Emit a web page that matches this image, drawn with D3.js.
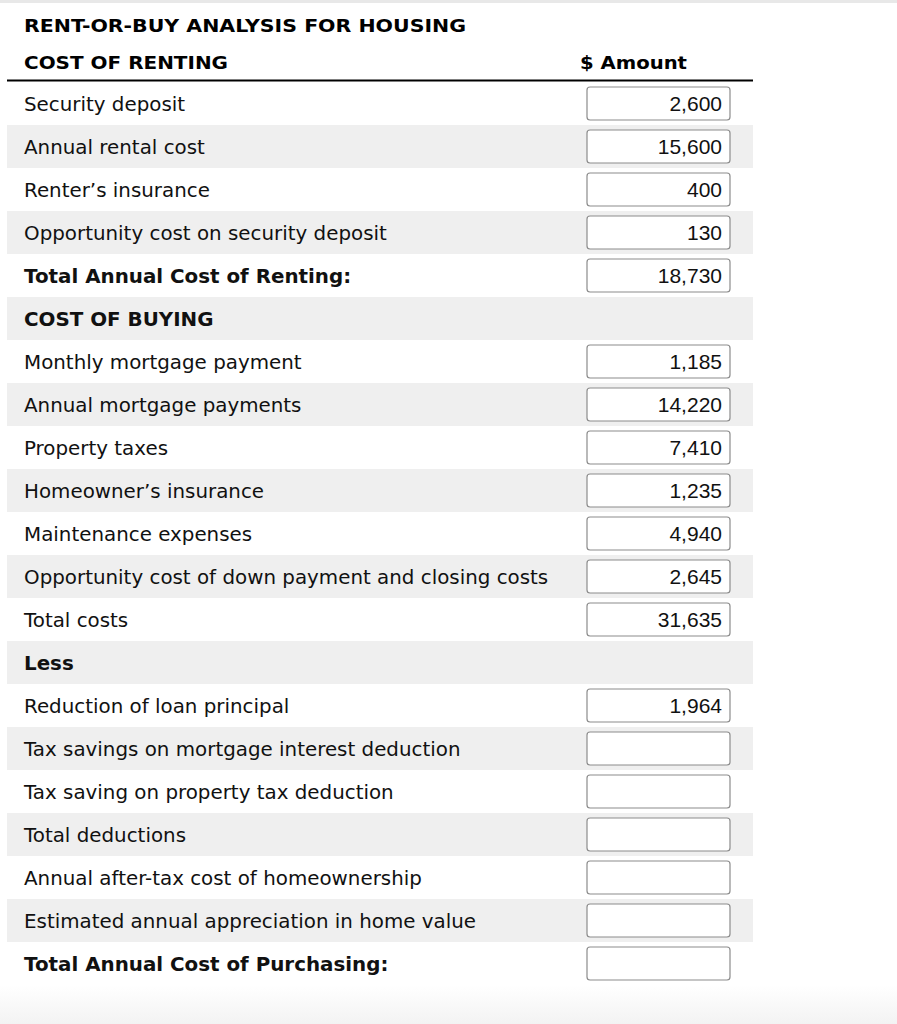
<!DOCTYPE html>
<html lang="en">
<head>
    <meta charset="UTF-8">
    <title>Rent or Buy</title>
    <script src="https://d3js.org/d3.v7.min.js"></script>
    <style>
        body { margin: 0; background: #fff; }
    </style>
</head>
<body>
<script>
    var width = 897, height = 1024;

    var labels = [
        "Security deposit",
        "Annual rental cost",
        "Renter\u2019s insurance",
        "Opportunity cost on security deposit",
        "Total Annual Cost of Renting:",
        "COST OF BUYING",
        "Monthly mortgage payment",
        "Annual mortgage payments",
        "Property taxes",
        "Homeowner\u2019s insurance",
        "Maintenance expenses",
        "Opportunity cost of down payment and closing costs",
        "Total costs",
        "Less",
        "Reduction of loan principal",
        "Tax savings on mortgage interest deduction",
        "Tax saving on property tax deduction",
        "Total deductions",
        "Annual after-tax cost of homeownership",
        "Estimated annual appreciation in home value",
        "Total Annual Cost of Purchasing:"
    ];
    // null = empty input box, undefined = no box (section heading)
    var amounts = [2600, 15600, 400, 130, 18730, undefined, 1185, 14220, 7410, 1235, 4940, 2645, 31635,
        undefined, 1964, null, null, null, null, null, null];
    var boldRows = [4, 5, 13, 20];

    var title = "RENT-OR-BUY ANALYSIS FOR HOUSING";
    var sectionHead = "COST OF RENTING";
    var colHead = "$ Amount";

    var svg = d3.select("body").append("svg")
        .attr("width", width)
        .attr("height", height);

    var defs = svg.append("defs");
    var grad = defs.append("linearGradient").attr("id", "fade")
        .attr("x1", 0).attr("y1", 0).attr("x2", 0).attr("y2", 1);
    grad.append("stop").attr("offset", "0%").attr("stop-color", "#ffffff");
    grad.append("stop").attr("offset", "100%").attr("stop-color", "#f3f3f3");
    svg.append("rect").attr("x", 0).attr("y", 985).attr("width", width).attr("height", height - 985)
        .style("fill", "url(#fade)");

    // top border
    svg.append("rect").attr("x", 0).attr("y", 0).attr("width", width).attr("height", 3).style("fill", "#e8e8e8");

    var tableLeft = 7, tableRight = 753;
    var y = d3.scaleBand()
        .domain(d3.range(labels.length))
        .range([82, 82 + 43 * labels.length]);

    var fmt = d3.format(",");
    var stretch = 1.045; // Verdana runs a bit wider than DejaVu Sans

    function widen(sel) {
        sel.each(function() {
            var w = this.getComputedTextLength();
            d3.select(this).attr("textLength", w * stretch).attr("lengthAdjust", "spacingAndGlyphs");
        });
    }

    // striped rows
    svg.selectAll(".band")
        .data(d3.range(labels.length).filter(function(i) { return i % 2 === 1; }))
        .enter().append("rect")
        .attr("x", tableLeft)
        .attr("y", function(i) { return y(i); })
        .attr("width", tableRight - tableLeft)
        .attr("height", y.bandwidth())
        .style("fill", "#efefef");

    // headers
    svg.append("text").attr("x", 24).attr("y", 32)
        .style("font-family", "DejaVu Sans").style("font-weight", "bold").style("font-size", "18px")
        .attr("textLength", 442).attr("lengthAdjust", "spacingAndGlyphs")
        .text(title);
    svg.append("text").attr("x", 24).attr("y", 69)
        .style("font-family", "DejaVu Sans").style("font-weight", "bold").style("font-size", "18px")
        .attr("textLength", 204).attr("lengthAdjust", "spacingAndGlyphs")
        .text(sectionHead);
    svg.append("text").attr("x", 580).attr("y", 69)
        .style("font-family", "DejaVu Sans").style("font-weight", "bold").style("font-size", "18px")
        .attr("textLength", 107).attr("lengthAdjust", "spacingAndGlyphs")
        .text(colHead);
    svg.append("line")
        .attr("x1", tableLeft).attr("x2", tableRight)
        .attr("y1", 80.5).attr("y2", 80.5)
        .style("stroke", "#000").style("stroke-width", 2);

    // row labels
    svg.selectAll(".lbl")
        .data(labels)
        .enter().append("text")
        .attr("class", "lbl")
        .attr("x", 24)
        .attr("y", function(d, i) { return y(i) + y.bandwidth() / 2 + 7; })
        .style("font-family", "DejaVu Sans")
        .style("font-size", "19px")
        .style("font-weight", function(d, i) { return boldRows.indexOf(i) >= 0 ? "bold" : "normal"; })
        .style("fill", "#111")
        .text(function(d) { return d; })
        .call(widen);

    // input boxes
    var boxes = d3.range(labels.length).filter(function(i) { return amounts[i] !== undefined; });
    svg.selectAll(".box")
        .data(boxes)
        .enter().append("rect")
        .attr("x", 587)
        .attr("y", function(i) { return y(i) + 5; })
        .attr("width", 143)
        .attr("height", 33)
        .attr("rx", 3)
        .style("fill", "#fff")
        .style("stroke", "#8c8c8c")
        .style("stroke-width", 1.2);

    svg.selectAll(".val")
        .data(boxes.filter(function(i) { return amounts[i] !== null; }))
        .enter().append("text")
        .attr("x", 722)
        .attr("y", function(i) { return y(i) + y.bandwidth() / 2 + 7.5; })
        .attr("text-anchor", "end")
        .style("font-family", "Liberation Sans, Arial, sans-serif")
        .style("font-size", "21px")
        .style("fill", "#111")
        .text(function(i) { return fmt(amounts[i]); });
</script>
</body>
</html>
